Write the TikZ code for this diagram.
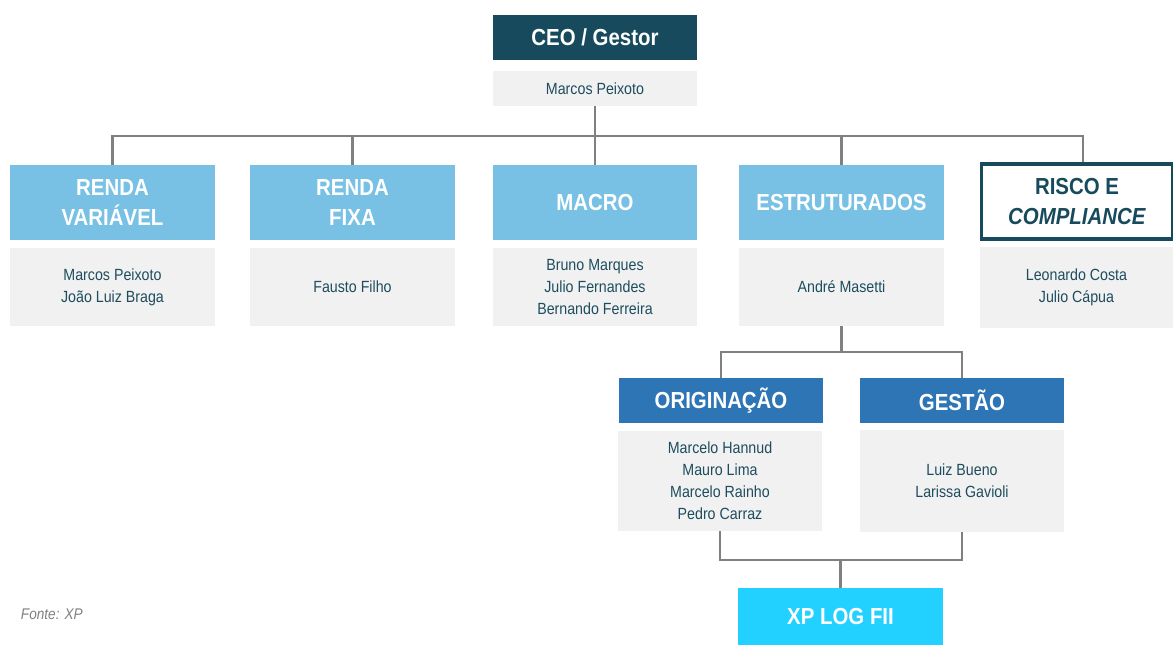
\documentclass[tikz,border=0pt]{standalone}
\usepackage{fontspec}
\setmainfont{Liberation Sans}[FakeStretch=0.88]
\usepackage{xcolor}
\usepackage{tikz}

\definecolor{ceoblue}{HTML}{164A5C}
\definecolor{areablue}{HTML}{78C1E4}
\definecolor{teamblue}{HTML}{2E75B6}
\definecolor{fundcyan}{HTML}{22D1FF}
\definecolor{namegray}{HTML}{F1F1F1}
\definecolor{nametext}{HTML}{1E4D5E}
\definecolor{linegray}{HTML}{808080}

\tikzset{
	head/.style={minimum width=5.1cm, minimum height=1.875cm, inner sep=0pt, align=center,
		font=\fontsize{16.5}{22}\selectfont\bfseries, text=white, fill=areablue},
	names/.style={minimum width=5.1cm, inner sep=0pt, align=center,
		font=\fontsize{11.5}{15.6}\selectfont, text=nametext, fill=namegray},
	link/.style={draw=linegray, line width=2.1pt}
}

\begin{document}
\begin{tikzpicture}[x=0.025cm, y=-0.025cm]
		\useasboundingbox (0,0) rectangle (1173,645);
		
		% topo
		\node[head, fill=ceoblue, minimum height=1.125cm] (ceo) at (595,37.5) {CEO / Gestor};
		\node[names, minimum height=0.875cm] (ceop) at (595,88.5) {Marcos Peixoto};
		
		% areas
		\node[head] (rv) at (112.5,202.5) {RENDA\\VARIÁVEL};
		\node[names, minimum height=1.95cm] (rvp) at (112.5,287) {Marcos Peixoto\\João Luiz Braga};
		
		\node[head] (rf) at (352.5,202.5) {RENDA\\FIXA};
		\node[names, minimum height=1.95cm] (rfp) at (352.5,287) {Fausto Filho};
		
		\node[head] (macro) at (595,202.5) {MACRO};
		\node[names, minimum height=1.95cm] (macrop) at (595,287) {Bruno Marques\\Julio Fernandes\\Bernando Ferreira};
		
		\node[head] (estr) at (841.5,202.5) {ESTRUTURADOS};
		\node[names, minimum height=1.95cm] (estrp) at (841.5,287) {André Masetti};
		
		\node[head, fill=white, draw=ceoblue, line width=2.6pt, text=ceoblue, minimum width=4.78cm, minimum height=1.86cm]
			(risco) at (1077,201.5) {RISCO E\\\textit{COMPLIANCE}};
		\node[names, minimum width=4.83cm, minimum height=2.025cm] (riscop) at (1076.5,287.5) {Leonardo Costa\\Julio Cápua};
		
		% estruturados
		\node[head, fill=teamblue, minimum height=1.125cm] (orig) at (721,400.5) {ORIGINAÇÃO};
		\node[names, minimum height=2.5cm] (origp) at (720,481) {Marcelo Hannud\\Mauro Lima\\Marcelo Rainho\\Pedro Carraz};
		
		\node[head, fill=teamblue, minimum height=1.125cm] (gestao) at (962,400.5) {GESTÃO};
		\node[names, minimum height=2.55cm] (gestaop) at (962,481) {Luiz Bueno\\Larissa Gavioli};
		
		\node[head, fill=fundcyan, minimum width=5.125cm, minimum height=1.425cm] (xplog) at (840.5,616.5) {XP LOG FII};
		
		% ligacoes
		\coordinate (bus) at (596,136);
		\coordinate (split) at (841.5,352);
		\coordinate (join) at (840.5,560);
		
		\draw[link] (ceop.south) -- (macro.north);
		\draw[link] (rv.north) |- (bus) -| ([xshift=0.15cm]risco.north);
		\foreach \n in {rf,estr}{
			\draw[link] (\n.north) -- (\n.north |- bus);
		}
		
		\draw[link] (estrp.south) -- (split);
		\draw[link] (orig.north) |- (split) -| (gestao.north);
		
		\draw[link] (origp.south) |- (join) -| (gestaop.south);
		\draw[link] (join) -- (xplog.north);
		
		\node[anchor=west, font=\fontsize{11}{13}\selectfont\itshape, text=gray] (fonte) at (16,614) {Fonte: XP};
	\end{tikzpicture}
\end{document}
